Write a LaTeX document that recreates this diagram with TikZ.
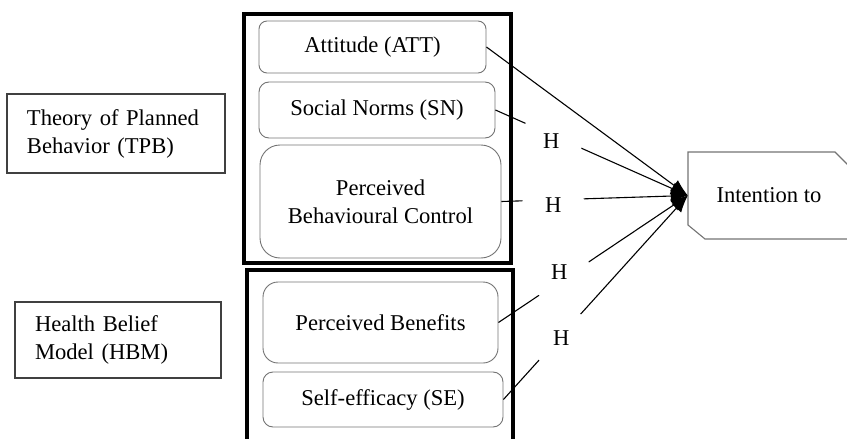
\documentclass[tikz,border=0pt]{standalone}
\usepackage{fontspec}
\setmainfont{Liberation Serif}
\usetikzlibrary{arrows.meta, positioning}

\begin{document}
\begin{tikzpicture}[
  x=1pt, y=-1pt,
  every node/.style={font=\fontsize{22.6pt}{28pt}\selectfont},
  construct/.style={draw=black!55, line width=0.9pt, rounded corners=#1, align=center, inner sep=0pt},
  model/.style={draw=black!75, line width=1.6pt, align=left, inner xsep=20pt, inner ysep=0pt},
  frame/.style={draw, line width=4pt, inner sep=0pt},
  hyp/.style={circle, fill=white, inner sep=0pt, minimum size=62pt},
  link/.style={line width=1.1pt, -{Latex[length=17pt, width=13pt]}},
]
  \useasboundingbox (0,0) rectangle (847,439);
  \clip (0,0) rectangle (847,439);

  % Model labels
  \node[model, text width=178pt, minimum height=79pt] (tpb) at (116,133.5) {Theory of Planned\\Behavior (TPB)};
  \node[model, text width=166pt, minimum height=76pt] (hbm) at (118,340) {Health Belief\\Model (HBM)};

  % Frames
  \node[frame, minimum width=267pt, minimum height=249pt] (tpbframe) at (377.5,138.5) {};
  \draw[line width=4pt] (247,450) -- (247,270) -- (513,270) -- (513,450);

  % TPB constructs
  \node[construct=8pt, minimum width=227pt, minimum height=52pt] (att) at (372.5,47) {Attitude (ATT)};
  \node[construct=10pt, minimum width=236pt, minimum height=56pt] (sn) at (377,110) {Social Norms (SN)};
  \node[construct=20pt, minimum width=241pt, minimum height=113pt] (pbc) at (380.5,201.5) {Perceived\\Behavioural Control};

  % HBM constructs
  \node[construct=15pt, minimum width=235pt, minimum height=81pt] (pb) at (380.5,322.5) {Perceived Benefits};
  \node[construct=10pt, minimum width=240pt, minimum height=55pt] (se) at (383,399.5) {Self-efficacy (SE)};

  % Outcome
  \node[minimum width=162pt, minimum height=87pt, inner sep=0pt] (int) at (769,195.5) {Intention to};
  \draw[draw=black!55, line width=1.1pt] (850,239) -- (705,239) -- (688,225) -- (688,152) -- (835,152) -- (850,167);

  % Hypotheses
  \draw[link] (att.east) -- (int.west);
  \foreach \src/\p/\s in {sn/0.29/-6, pbc/0.278/-5, pb/0.321/10, se/0.314/-3} {
    \draw[link] (\src.east) -- node[hyp, pos=\p, yshift=\s pt] {H} (int.west);
  }
\end{tikzpicture}
\end{document}
